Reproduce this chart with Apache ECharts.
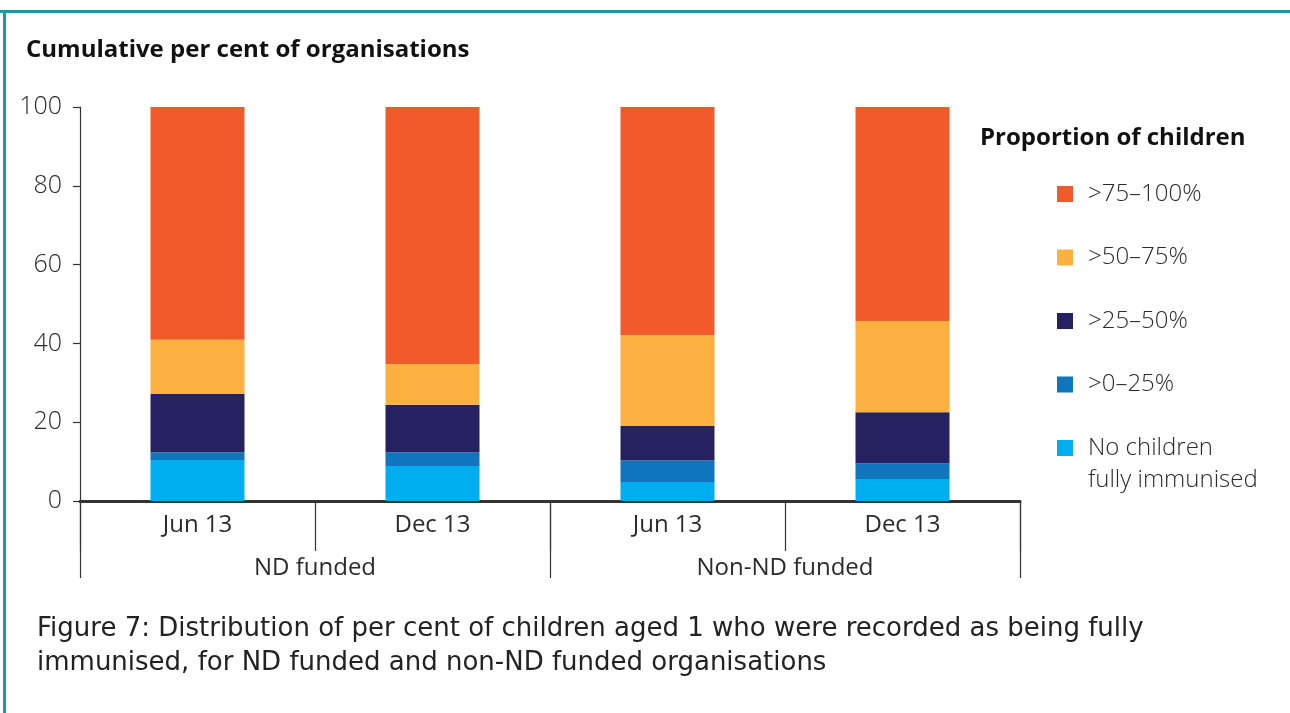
<!DOCTYPE html>
<html>
<head>
<meta charset="utf-8">
<title>Figure 7</title>
<script src="https://cdn.jsdelivr.net/npm/echarts@6/dist/echarts.min.js"></script>
<style>
  html, body {
    margin: 0;
    padding: 0;
    background: #fff;
  }
  #chart {
    width: 1290px;
    height: 713px;
  }
</style>
</head>
<body>
<div id="chart"></div>
<script>
// categories
let periods = ['Jun 13', 'Dec 13', 'Jun 13', 'Dec 13']
let groups = ['ND funded', 'Non-ND funded']
let yTicks = [0, 20, 40, 60, 80, 100]

// per cent of organisations in each band (bottom to top)
let noneImmunised = [10.4, 8.9, 4.8, 5.6]
let band0to25 = [2.0, 3.5, 5.5, 4.0]
let band25to50 = [14.8, 12.0, 8.8, 12.9]
let band50to75 = [13.7, 10.4, 23.0, 23.2]
let band75to100 = [59.1, 65.2, 57.9, 54.3]

let names = ['No children', '>0–25%', '>25–50%', '>50–75%', '>75–100%']
let colors = ['#00aeef', '#0f75bc', '#262262', '#fbb040', '#f15a2b']
let values = [noneImmunised, band0to25, band25to50, band50to75, band75to100]

let font = "'Open Sans', 'Noto Sans', sans-serif"
let ink = '#2b2b2b'

let series = names.map(function (name, i) {
  return {
    name: name,
    type: 'bar',
    stack: 'total',
    barWidth: '40%',
    itemStyle: { color: colors[i] },
    data: values[i]
  }
})

let myChart = echarts.init(document.getElementById('chart'))
myChart.setOption({
  animation: false,
  title: [
    {
      text: 'Cumulative per cent of organisations',
      left: 21,
      top: 33,
      textStyle: { fontFamily: font, fontSize: 24, fontWeight: 'bold', color: '#111' }
    },
    {
      text: 'Proportion of children',
      left: 975,
      top: 121,
      textStyle: { fontFamily: font, fontSize: 24, fontWeight: 'bold', color: '#111' }
    }
  ],
  legend: {
    orient: 'vertical',
    left: 1052,
    top: 174,
    itemGap: 33.5,
    itemWidth: 16,
    itemHeight: 16,
    icon: 'rect',
    data: names.slice().reverse(),
    textStyle: {
      fontFamily: font,
      fontSize: 24,
      fontWeight: 300,
      color: ink,
      lineHeight: 30,
      padding: [0, 0, 0, 10]
    }
  },
  grid: {
    left: 80,
    right: 270,
    top: 107,
    bottom: 212
  },
  xAxis: [
    {
      type: 'category',
      data: periods,
      axisLine: { lineStyle: { color: '#333', width: 3 } },
      axisTick: { show: true, interval: 0, length: 50, lineStyle: { color: '#333', width: 1.2 } },
      axisLabel: {
        margin: 12,
        fontFamily: font,
        fontSize: 24,
        color: ink
      }
    },
    {
      type: 'category',
      position: 'bottom',
      data: groups,
      axisLine: { show: false },
      axisTick: { show: true, interval: 0, length: 77, lineStyle: { color: '#333', width: 1.2 } },
      axisLabel: {
        margin: 55,
        fontFamily: font,
        fontSize: 24,
        color: ink
      }
    }
  ],
  yAxis: {
    type: 'value',
    min: yTicks[0],
    max: yTicks[yTicks.length - 1],
    interval: 20,
    axisLine: { show: true, lineStyle: { color: '#333', width: 1.2 } },
    axisTick: { show: true, length: 7, lineStyle: { color: '#333', width: 1.2 } },
    splitLine: { show: false },
    axisLabel: {
      margin: 18,
      fontFamily: font,
      fontSize: 25,
      fontWeight: 300,
      color: ink
    }
  },
  graphic: [
    // teal frame
    { type: 'rect', shape: { x: 0, y: 10, width: 1290, height: 3 }, style: { fill: '#2196a9' } },
    { type: 'rect', shape: { x: 3, y: 10, width: 3, height: 703 }, style: { fill: '#2196a9' } },
    // second line of the last legend entry
    {
      type: 'text',
      left: 1088,
      top: 468,
      style: { text: 'fully immunised', font: '300 24px ' + font, fill: ink }
    },
    // caption
    {
      type: 'text',
      left: 37,
      top: 612,
      style: {
        text: 'Figure 7: Distribution of per cent of children aged 1 who were recorded as being fully\nimmunised, for ND funded and non-ND funded organisations',
        font: "26px 'DejaVu Sans', sans-serif",
        lineHeight: 34,
        fill: '#222'
      }
    }
  ],
  series: series
})
</script>
</body>
</html>
